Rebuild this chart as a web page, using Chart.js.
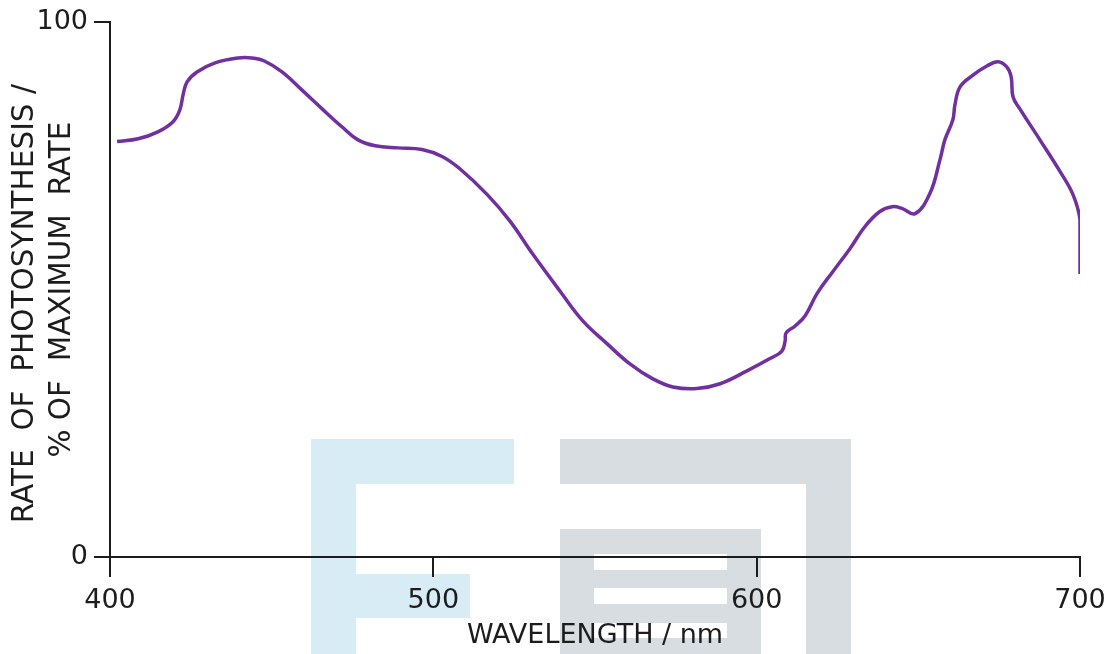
<!DOCTYPE html>
<html>
<head>
<meta charset="utf-8">
<script src="https://cdn.jsdelivr.net/npm/chart.js@4.4.1/dist/chart.umd.min.js"></script>
<style>
  html, body { margin: 0; padding: 0; background: #ffffff; }
  #wrap { position: relative; width: 1114px; height: 654px; overflow: hidden; }
  .wm { position: absolute; }
  .blue { background: #d7ecf5; }
  .grey { background: #d8dde1; }
  .gap { background: #ffffff; }
  canvas { position: absolute; left: 0; top: 0; }
</style>
</head>
<body>
<div id="wrap">
  <!-- faint logo behind the plot -->
  <div class="wm blue" style="left:311px;top:439px;width:203px;height:45px"></div>
  <div class="wm blue" style="left:311px;top:439px;width:45px;height:215px"></div>
  <div class="wm blue" style="left:356px;top:574px;width:114px;height:44px"></div>
  <div class="wm grey" style="left:560px;top:439px;width:291px;height:45px"></div>
  <div class="wm grey" style="left:806px;top:439px;width:45px;height:215px"></div>
  <div class="wm grey" style="left:560px;top:529px;width:201px;height:125px"></div>
  <div class="wm gap" style="left:594px;top:554px;width:133px;height:16px"></div>
  <div class="wm gap" style="left:594px;top:588px;width:133px;height:16px"></div>
  <div class="wm gap" style="left:594px;top:623px;width:133px;height:15px"></div>
  <canvas id="chart" width="1114" height="654"></canvas>
</div>
<script>
// Action spectrum: rate of photosynthesis against wavelength
const wavelengths = [
  402.2, 408.7, 414.8, 419.5, 421.6, 422.6, 423.8, 426.9, 432.5, 439.6,
  443.9, 447.9, 453.2, 459.4, 465.6, 471.8, 476.7, 482.0, 489.1, 496.5,
  502.7, 508.2, 516.6, 523.7, 530.8, 539.2, 546.3, 553.7, 560.8, 567.9,
  574.1, 581.5, 588.7, 597.0, 604.1, 607.8, 608.8, 609.1, 611.9, 615.0,
  618.7, 623.6, 628.9, 633.5, 638.1, 641.9, 644.9, 649.0, 653.6, 656.7,
  658.2, 660.7, 661.3, 662.9, 666.9, 671.2, 674.6, 677.4, 678.7, 679.3,
  681.4, 687.6, 693.8, 697.8, 700.0, 700.0, 700.0
];
const rates = [
  77.7, 78.2, 79.5, 81.4, 83.6, 86.4, 88.8, 90.7, 92.4, 93.3,
  93.3, 92.7, 90.7, 87.3, 83.8, 80.4, 78.0, 76.9, 76.5, 76.2,
  74.9, 72.6, 67.8, 62.8, 56.6, 49.7, 44.1, 39.9, 36.1, 33.3,
  31.8, 31.5, 32.4, 34.8, 37.1, 38.5, 40.4, 41.9, 43.2, 45.1,
  49.3, 53.4, 57.7, 61.8, 64.6, 65.5, 65.2, 64.2, 68.0, 74.3,
  78.0, 81.8, 84.5, 87.9, 90.1, 91.8, 92.6, 91.6, 89.8, 86.0,
  83.8, 78.0, 72.1, 67.8, 63.1, 58.1, 52.9
];
const xTickValues = [400, 500, 600, 700];
const yTickValues = [0, 100];
const xTitle = 'WAVELENGTH / nm';
// trailing spaces nudge the longer first line towards the axis origin
const yTitle = ['RATE  OF  PHOTOSYNTHESIS /   ', '% OF  MAXIMUM  RATE'];

const ink = '#1c1c1c';
const fontFamily = "'DejaVu Sans', sans-serif";

new Chart(document.getElementById('chart'), {
  type: 'line',
  data: {
    datasets: [{
      data: wavelengths.map((w, i) => ({ x: w, y: rates[i] })),
      borderColor: '#7030a0',
      borderWidth: 3.5,
      pointRadius: 0,
      tension: 0.4,
      fill: false
    }]
  },
  options: {
    responsive: false,
    animation: false,
    layout: { padding: { top: 21, right: 34, left: 0, bottom: 0 } },
    plugins: { legend: { display: false }, tooltip: { enabled: false } },
    scales: {
      x: {
        type: 'linear',
        min: 400,
        max: 700,
        afterBuildTicks: s => { s.ticks = xTickValues.map(v => ({ value: v })); },
        afterFit: s => { s.height = 97; },
        border: { display: true, color: ink, width: 2 },
        grid: { drawOnChartArea: false, drawTicks: true, tickLength: 20, color: ink, lineWidth: 2 },
        ticks: { color: ink, padding: 8, font: { family: fontFamily, size: 27 }, maxRotation: 0 },
        title: { display: true, text: xTitle, color: ink, padding: { top: 0, bottom: 2 }, font: { family: fontFamily, size: 27 } }
      },
      y: {
        type: 'linear',
        min: 0,
        max: 100,
        afterBuildTicks: s => { s.ticks = yTickValues.map(v => ({ value: v })); },
        afterFit: s => { s.width = 110; },
        border: { display: true, color: ink, width: 2 },
        grid: { drawOnChartArea: false, drawTicks: true, tickLength: 16, color: ink, lineWidth: 2 },
        ticks: { color: ink, padding: 6, font: { family: fontFamily, size: 27 } },
        title: { display: true, text: yTitle, color: ink, padding: { top: 7, bottom: 0 }, font: { family: fontFamily, size: 29.5, lineHeight: 1.25 } }
      }
    }
  }
});
</script>
</body>
</html>
